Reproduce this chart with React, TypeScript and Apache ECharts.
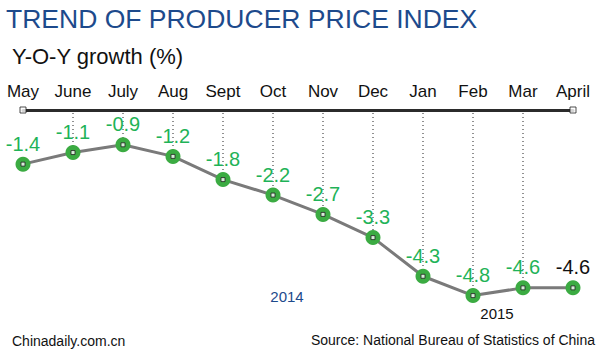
import React, { useEffect, useRef } from "react";
import * as echarts from "echarts";

const months = ["May", "June", "July", "Aug", "Sept", "Oct", "Nov", "Dec", "Jan", "Feb", "Mar", "April"];
const ppiValues = [-1.4, -1.1, -0.9, -1.2, -1.8, -2.2, -2.7, -3.3, -4.3, -4.8, -4.6, -4.6];
const dottedIndices = [1, 2, 3, 4, 5, 6, 7, 8, 9, 10];
const titleText = "TREND OF PRODUCER PRICE INDEX";
const subtitleText = "Y-O-Y growth (%)";
const sourceText = "Source: National Bureau of Statistics of China";
const creditText = "Chinadaily.com.cn";
const yearLabels = ["2014", "2015"];

const GREEN_TEXT = "#1fb358";
const GREEN_MARK = "#3bab42";
const BLUE = "#1d4a8c";
const FONT = "'Liberation Sans', Arial, sans-serif";

export default function App() {
  const ref = useRef<HTMLDivElement>(null);
  useEffect(() => {
    if (!ref.current) return;
    const chart = echarts.init(ref.current, null, { renderer: "svg" });
    const last = ppiValues.length - 1;
    chart.setOption({
      animation: false,
      backgroundColor: "#ffffff",
      grid: { left: 23, right: 27, top: 110, bottom: 14, containLabel: false },
      xAxis: {
        type: "category",
        data: months,
        position: "top",
        boundaryGap: false,
        axisLine: { show: true, lineStyle: { color: "#2b2b2b", width: 3 } },
        axisTick: { show: false },
        axisLabel: { show: true, color: "#111", fontSize: 17, fontFamily: FONT, margin: 10, interval: 0 },
        splitLine: { show: false },
      },
      yAxis: {
        type: "value",
        min: -6,
        max: 0,
        show: false,
      },
      series: [
        {
          type: "custom",
          z: 1,
          silent: true,
          data: dottedIndices.map((i) => [i, ppiValues[i]]),
          renderItem: (params: any, api: any) => {
            const p0 = api.coord([api.value(0), 0]);
            const p1 = api.coord([api.value(0), api.value(1)]);
            return {
              type: "line",
              shape: { x1: p0[0], y1: p0[1] + 3, x2: p1[0], y2: p1[1] },
              style: { stroke: "#222", lineWidth: 1, lineDash: [1, 3] },
            };
          },
        },
        {
          type: "line",
          z: 3,
          data: ppiValues.map((v, i) => ({
            value: v,
            label: i === last ? { color: "#111" } : undefined,
          })),
          lineStyle: { color: "#7a7a7a", width: 3 },
          symbol: "circle",
          symbolSize: 15,
          itemStyle: { color: GREEN_MARK, borderWidth: 0 },
          label: {
            show: true,
            position: "top",
            distance: 3,
            fontSize: 20,
            fontFamily: FONT,
            color: GREEN_TEXT,
            formatter: (p: any) => p.value.toFixed(1),
          },
        },
        {
          type: "scatter",
          z: 4,
          data: ppiValues.map((v, i) => [i, v]),
          symbol: "rect",
          symbolSize: 4,
          itemStyle: { color: "#ffffff", borderColor: "#222", borderWidth: 1 },
          silent: true,
        },
        {
          type: "scatter",
          z: 5,
          data: [[0, 0], [last, 0]],
          symbol: "rect",
          symbolSize: 6,
          itemStyle: { color: "#ffffff", borderColor: "#222", borderWidth: 1 },
          silent: true,
        },
      ],
      graphic: [
        {
          type: "text",
          x: 6,
          y: 19,
          style: { text: titleText, fill: BLUE, font: `26.5px ${FONT}`, verticalAlign: "middle" },
        },
        {
          type: "text",
          x: 12,
          y: 56,
          style: { text: subtitleText, fill: "#111", font: `22px ${FONT}`, verticalAlign: "middle" },
        },
        {
          type: "text",
          x: 287,
          y: 296,
          style: { text: yearLabels[0], fill: BLUE, font: `15px ${FONT}`, align: "center", verticalAlign: "middle" },
        },
        {
          type: "text",
          x: 497,
          y: 313,
          style: { text: yearLabels[1], fill: "#111", font: `15px ${FONT}`, align: "center", verticalAlign: "middle" },
        },
        {
          type: "text",
          x: 12,
          y: 341,
          style: { text: creditText, fill: "#111", font: `14px ${FONT}`, verticalAlign: "middle" },
        },
        {
          type: "text",
          x: 595,
          y: 340,
          style: { text: sourceText, fill: "#111", font: `14px ${FONT}`, align: "right", verticalAlign: "middle" },
        },
      ],
    });
    return () => chart.dispose();
  }, []);
  return <div ref={ref} style={{ width: 600, height: 356, position: "fixed", left: 0, top: 0 }} />;
}
